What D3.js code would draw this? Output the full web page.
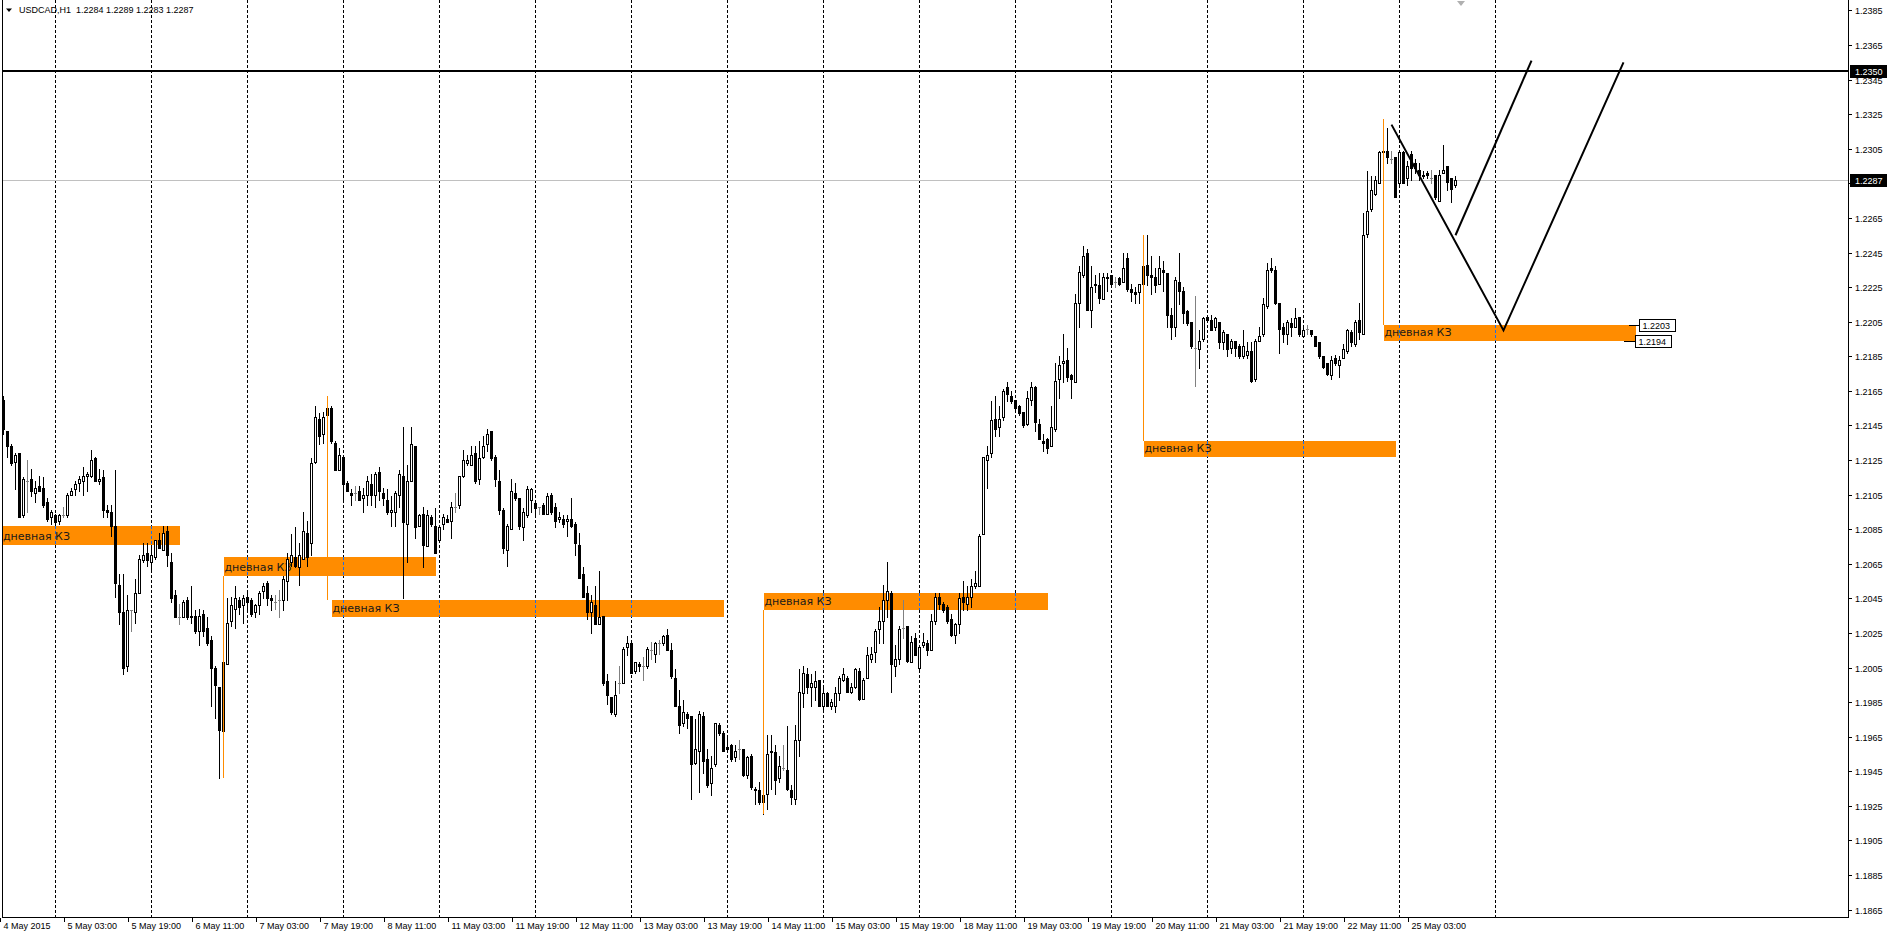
<!DOCTYPE html>
<html>
<head>
<meta charset="utf-8">
<script src="https://cdnjs.cloudflare.com/ajax/libs/d3/7.8.5/d3.min.js"></script>
<style>
  html, body { margin: 0; padding: 0; background: #fff; }
  svg { display: block; }
  text { font-family: "Liberation Sans", Arial, sans-serif; font-size: 9px; fill: #000; }
  .zone-text { font-family: "DejaVu Sans", sans-serif; font-size: 11px; fill: #1a1a1a; }
</style>
</head>
<body>
<div id="chart"></div>
<script>
var width = 1890, height = 934;
var plotLeft = 2, plotRight = 1848, plotBottom = 917;

var symbol = "USDCAD,H1";
var days = ["2015-05-04","2015-05-05","2015-05-06","2015-05-07","2015-05-08",
            "2015-05-11","2015-05-12","2015-05-13","2015-05-14","2015-05-15",
            "2015-05-18","2015-05-19","2015-05-20","2015-05-21","2015-05-22","2015-05-25"];
var firstHour = 11;

var opens = [
1.2160,1.2142,1.2133,1.2124,1.2129,1.2093,1.2113,1.2114,1.2106,1.2110,
1.2109,1.2101,1.2092,1.2093,1.2090,1.2093,1.2093,1.2105,1.2108,1.2112,
1.2113,1.2116,1.2116,1.2126,1.2113,1.2115,1.2096,1.2095,1.2087,1.2053,
1.2037,1.2006,1.2038,1.2037,1.2048,1.2067,1.2071,1.2066,1.2069,1.2079,
1.2073,1.2084,1.2066,1.2047,1.2034,1.2034,1.2044,1.2035,1.2035,1.2026,
1.2036,1.2028,1.2021,1.2005,1.1994,1.1968,1.2007,1.2032,1.2039,1.2044,
1.2041,1.2046,1.2044,1.2037,1.2041,1.2049,1.2054,1.2045,1.2043,1.2044,
1.2044,1.2055,1.2066,1.2069,1.2063,1.2068,1.2083,1.2077,1.2124,1.2149,
1.2140,1.2151,1.2155,1.2135,1.2119,1.2127,1.2112,1.2106,1.2106,1.2107,
1.2103,1.2105,1.2111,1.2105,1.2118,1.2106,1.2102,1.2095,1.2095,1.2105,
1.2116,1.2088,1.2113,1.2133,1.2087,1.2094,1.2075,1.2092,1.2087,1.2079,
1.2088,1.2091,1.2090,1.2098,1.2099,1.2116,1.2123,1.2122,1.2129,1.2114,
1.2127,1.2134,1.2142,1.2127,1.2113,1.2096,1.2073,1.2085,1.2106,1.2103,
1.2086,1.2093,1.2102,1.2100,1.2098,1.2099,1.2094,1.2105,1.2098,1.2091,
1.2091,1.2090,1.2091,1.2088,1.2076,1.2059,1.2048,1.2037,1.2041,1.2030,
1.2035,1.1997,1.1988,1.1978,1.1996,1.1996,1.2017,1.2019,1.2003,1.2007,
1.2006,1.2006,1.2015,1.2013,1.2019,1.2019,1.2024,1.2015,1.1999,1.1983,
1.1973,1.1978,1.1977,1.1950,1.1957,1.1977,1.1952,1.1938,1.1949,1.1972,
1.1967,1.1959,1.1960,1.1953,1.1958,1.1958,1.1943,1.1954,1.1935,1.1934,
1.1927,1.1932,1.1956,1.1956,1.1941,1.1947,1.1946,1.1934,1.1929,1.1963,
1.1990,1.2001,1.1994,1.1994,1.1998,1.1983,1.1990,1.1983,1.1983,1.1990,
1.1998,1.1999,1.1991,1.1994,1.2003,1.1987,1.1999,1.2010,1.2014,1.2027,
1.2032,1.2044,1.2048,1.2006,1.2010,1.2028,1.2029,1.2008,1.2022,1.2005,
1.2018,1.2019,1.2015,1.2032,1.2046,1.2042,1.2040,1.2033,1.2024,1.2030,
1.2046,1.2042,1.2046,1.2052,1.2052,1.2082,1.2125,1.2129,1.2149,1.2144,
1.2150,1.2167,1.2162,1.2160,1.2156,1.2153,1.2146,1.2160,1.2167,1.2146,
1.2136,1.2137,1.2133,1.2143,1.2172,1.2181,1.2183,1.2174,1.2170,1.2216,
1.2232,1.2245,1.2212,1.2226,1.2226,1.2218,1.2230,1.2232,1.2228,1.2230,
1.2228,1.2242,1.2224,1.2222,1.2222,1.2227,1.2238,1.2232,1.2231,1.2227,
1.2235,1.2233,1.2209,1.2202,1.2228,1.2223,1.2211,1.2205,1.2190,1.2189,
1.2195,1.2208,1.2206,1.2202,1.2205,1.2193,1.2198,1.2190,1.2194,1.2191,
1.2185,1.2186,1.2188,1.2172,1.2194,1.2198,1.2214,1.2236,1.2235,1.2216,
1.2202,1.2198,1.2204,1.2202,1.2208,1.2197,1.2201,1.2200,1.2197,1.2193,
1.2185,1.2181,1.2174,1.2184,1.2180,1.2184,1.2188,1.2199,1.2192,1.2206,
1.2198,1.2256,1.2270,1.2279,1.2285,1.2303,1.2304,1.2299,1.2300,1.2285,
1.2303,1.2288,1.2302,1.2297,1.2293,1.2289,1.2291,1.2288,1.2290,1.2275,
1.2291,1.2295,1.2288,1.2284];

var highs = [
1.2162,1.2142,1.2134,1.2129,1.2129,1.2115,1.2125,1.2120,1.2113,1.2116,
1.2115,1.2103,1.2096,1.2094,1.2094,1.2098,1.2106,1.2109,1.2113,1.2116,
1.2121,1.2118,1.2131,1.2127,1.2120,1.2119,1.2099,1.2099,1.2119,1.2059,
1.2059,1.2047,1.2038,1.2056,1.2070,1.2077,1.2077,1.2074,1.2079,1.2083,
1.2087,1.2087,1.2071,1.2050,1.2042,1.2044,1.2046,1.2052,1.2038,1.2039,
1.2038,1.2034,1.2023,1.2006,1.1994,1.2009,1.2045,1.2046,1.2052,1.2046,
1.2047,1.2048,1.2045,1.2042,1.2049,1.2054,1.2055,1.2047,1.2047,1.2050,
1.2058,1.2071,1.2082,1.2086,1.2077,1.2095,1.2090,1.2126,1.2156,1.2152,
1.2153,1.2162,1.2156,1.2136,1.2132,1.2128,1.2113,1.2108,1.2110,1.2110,
1.2109,1.2116,1.2117,1.2118,1.2121,1.2109,1.2108,1.2104,1.2107,1.2119,
1.2144,1.2122,1.2144,1.2133,1.2094,1.2098,1.2096,1.2093,1.2097,1.2086,
1.2094,1.2093,1.2101,1.2106,1.2116,1.2131,1.2128,1.2133,1.2133,1.2136,
1.2139,1.2143,1.2142,1.2128,1.2119,1.2097,1.2088,1.2114,1.2112,1.2103,
1.2097,1.2110,1.2109,1.2102,1.2098,1.2100,1.2106,1.2106,1.2100,1.2095,
1.2093,1.2093,1.2103,1.2089,1.2083,1.2063,1.2052,1.2047,1.2052,1.2061,
1.2035,1.2001,1.1988,1.1997,1.2006,1.2017,1.2023,1.2019,1.2008,1.2008,
1.2011,1.2017,1.2020,1.2020,1.2021,1.2024,1.2027,1.2019,1.2004,1.1992,
1.1986,1.1979,1.1977,1.1975,1.1980,1.1979,1.1958,1.1954,1.1973,1.1973,
1.1968,1.1964,1.1961,1.1960,1.1963,1.1958,1.1954,1.1955,1.1936,1.1939,
1.1932,1.1966,1.1966,1.1960,1.1954,1.1960,1.1971,1.1937,1.1972,1.2004,
1.2006,1.2005,1.2001,1.2003,1.1998,1.1994,1.1991,1.1987,1.1994,1.2000,
1.2005,1.2000,1.1996,1.2005,1.2005,1.1999,1.2017,1.2017,1.2027,1.2040,
1.2053,1.2066,1.2049,1.2018,1.2029,1.2044,1.2029,1.2023,1.2025,1.2018,
1.2025,1.2021,1.2036,1.2048,1.2048,1.2043,1.2041,1.2036,1.2031,1.2048,
1.2055,1.2052,1.2056,1.2061,1.2082,1.2127,1.2133,1.2159,1.2162,1.2156,
1.2166,1.2170,1.2165,1.2160,1.2157,1.2153,1.2165,1.2170,1.2168,1.2149,
1.2140,1.2138,1.2156,1.2181,1.2185,1.2198,1.2190,1.2175,1.2221,1.2237,
1.2249,1.2247,1.2237,1.2232,1.2233,1.2233,1.2233,1.2232,1.2231,1.2231,
1.2245,1.2245,1.2227,1.2225,1.2227,1.2238,1.2255,1.2243,1.2236,1.2243,
1.2240,1.2233,1.2213,1.2231,1.2245,1.2225,1.2212,1.2205,1.2220,1.2200,
1.2208,1.2209,1.2209,1.2208,1.2205,1.2200,1.2198,1.2195,1.2194,1.2192,
1.2200,1.2193,1.2193,1.2195,1.2202,1.2219,1.2239,1.2242,1.2237,1.2216,
1.2204,1.2206,1.2207,1.2213,1.2208,1.2203,1.2203,1.2200,1.2197,1.2193,
1.2185,1.2181,1.2185,1.2186,1.2185,1.2192,1.2201,1.2200,1.2206,1.2216,
1.2268,1.2292,1.2289,1.2289,1.2304,1.2322,1.2317,1.2304,1.2300,1.2304,
1.2304,1.2298,1.2304,1.2299,1.2297,1.2292,1.2292,1.2293,1.2290,1.2293,
1.2307,1.2295,1.2288,1.2289];

var lows = [
1.2140,1.2127,1.2122,1.2108,1.2092,1.2092,1.2095,1.2104,1.2101,1.2107,
1.2098,1.2090,1.2088,1.2088,1.2088,1.2092,1.2092,1.2105,1.2105,1.2107,
1.2105,1.2107,1.2115,1.2113,1.2111,1.2092,1.2092,1.2081,1.2046,1.2030,
1.2001,1.2003,1.2026,1.2031,1.2048,1.2066,1.2064,1.2062,1.2068,1.2074,
1.2073,1.2064,1.2043,1.2034,1.2030,1.2034,1.2033,1.2031,1.2025,1.2018,
1.2023,1.2018,1.1983,1.1976,1.1941,1.1945,1.2007,1.2029,1.2028,1.2036,
1.2031,1.2037,1.2035,1.2034,1.2036,1.2045,1.2041,1.2038,1.2039,1.2034,
1.2038,1.2044,1.2064,1.2063,1.2053,1.2068,1.2064,1.2070,1.2123,1.2134,
1.2135,1.2150,1.2135,1.2119,1.2119,1.2101,1.2107,1.2099,1.2102,1.2102,
1.2095,1.2099,1.2099,1.2098,1.2102,1.2099,1.2094,1.2087,1.2087,1.2098,
1.2045,1.2066,1.2113,1.2080,1.2087,1.2063,1.2075,1.2087,1.2071,1.2079,
1.2085,1.2089,1.2080,1.2095,1.2097,1.2115,1.2122,1.2122,1.2112,1.2111,
1.2126,1.2130,1.2125,1.2110,1.2094,1.2071,1.2064,1.2085,1.2102,1.2085,
1.2079,1.2092,1.2095,1.2094,1.2094,1.2094,1.2094,1.2094,1.2086,1.2089,
1.2086,1.2081,1.2086,1.2070,1.2057,1.2046,1.2033,1.2025,1.2030,1.2030,
1.1995,1.1984,1.1978,1.1977,1.1990,1.1996,1.2012,1.2002,1.2002,1.2003,
1.1998,1.2005,1.2010,1.2008,1.2013,1.2018,1.2015,1.1999,1.1983,1.1967,
1.1971,1.1970,1.1929,1.1949,1.1933,1.1944,1.1936,1.1931,1.1948,1.1966,
1.1957,1.1957,1.1951,1.1951,1.1952,1.1942,1.1941,1.1935,1.1926,1.1926,
1.1920,1.1923,1.1935,1.1932,1.1939,1.1946,1.1934,1.1926,1.1926,1.1954,
1.1982,1.1990,1.1983,1.1986,1.1983,1.1980,1.1983,1.1981,1.1979,1.1986,
1.1997,1.1991,1.1990,1.1993,1.1986,1.1987,1.1999,1.2008,1.2008,1.2019,
1.2019,1.2034,1.1991,1.2000,1.2007,1.2022,1.2008,1.2008,1.2012,1.2004,
1.2017,1.2012,1.2015,1.2030,1.2039,1.2037,1.2031,1.2023,1.2019,1.2025,
1.2038,1.2038,1.2040,1.2051,1.2052,1.2082,1.2109,1.2127,1.2139,1.2139,
1.2148,1.2159,1.2158,1.2154,1.2151,1.2144,1.2145,1.2157,1.2142,1.2137,
1.2130,1.2129,1.2133,1.2142,1.2161,1.2170,1.2171,1.2161,1.2170,1.2202,
1.2231,1.2212,1.2202,1.2222,1.2216,1.2218,1.2223,1.2227,1.2225,1.2226,
1.2228,1.2223,1.2217,1.2216,1.2216,1.2226,1.2226,1.2221,1.2222,1.2227,
1.2223,1.2202,1.2195,1.2197,1.2215,1.2204,1.2203,1.2190,1.2168,1.2178,
1.2194,1.2205,1.2200,1.2200,1.2190,1.2189,1.2185,1.2187,1.2185,1.2184,
1.2184,1.2184,1.2170,1.2171,1.2194,1.2197,1.2213,1.2234,1.2215,1.2187,
1.2193,1.2192,1.2197,1.2202,1.2197,1.2196,1.2198,1.2197,1.2191,1.2184,
1.2178,1.2174,1.2172,1.2180,1.2173,1.2184,1.2187,1.2191,1.2191,1.2195,
1.2198,1.2254,1.2269,1.2278,1.2285,1.2302,1.2297,1.2297,1.2277,1.2284,
1.2285,1.2284,1.2287,1.2291,1.2287,1.2288,1.2288,1.2285,1.2276,1.2275,
1.2291,1.2281,1.2274,1.2283];

var closes = [
1.2143,1.2133,1.2123,1.2128,1.2092,1.2114,1.2113,1.2107,1.2109,1.2107,
1.2099,1.2091,1.2095,1.2089,1.2093,1.2093,1.2105,1.2107,1.2111,1.2114,
1.2116,1.2117,1.2125,1.2113,1.2114,1.2096,1.2095,1.2087,1.2054,1.2037,
1.2005,1.2038,1.2038,1.2048,1.2068,1.2070,1.2067,1.2070,1.2079,1.2074,
1.2083,1.2070,1.2045,1.2034,1.2034,1.2043,1.2034,1.2034,1.2026,1.2035,
1.2026,1.2019,1.2005,1.1995,1.1969,1.2008,1.2031,1.2041,1.2045,1.2040,
1.2045,1.2043,1.2036,1.2041,1.2048,1.2052,1.2045,1.2044,1.2043,1.2044,
1.2056,1.2068,1.2070,1.2064,1.2070,1.2084,1.2069,1.2123,1.2150,1.2139,
1.2150,1.2155,1.2136,1.2119,1.2128,1.2111,1.2107,1.2105,1.2106,1.2102,
1.2105,1.2113,1.2105,1.2117,1.2107,1.2103,1.2095,1.2096,1.2106,1.2117,
1.2089,1.2113,1.2134,1.2086,1.2093,1.2076,1.2093,1.2088,1.2071,1.2086,
1.2092,1.2089,1.2098,1.2098,1.2116,1.2125,1.2125,1.2128,1.2113,1.2126,
1.2133,1.2140,1.2126,1.2114,1.2096,1.2074,1.2087,1.2107,1.2103,1.2087,
1.2095,1.2108,1.2108,1.2097,1.2098,1.2094,1.2104,1.2095,1.2090,1.2092,
1.2088,1.2091,1.2087,1.2077,1.2057,1.2046,1.2037,1.2043,1.2030,1.2034,
1.1996,1.1989,1.1979,1.1989,1.1996,1.2016,1.2019,1.2002,1.2008,1.2006,
1.2006,1.2016,1.2015,1.2019,1.2019,1.2023,1.2015,1.2000,1.1983,1.1972,
1.1979,1.1976,1.1949,1.1958,1.1978,1.1951,1.1937,1.1947,1.1973,1.1967,
1.1957,1.1958,1.1952,1.1957,1.1958,1.1943,1.1953,1.1936,1.1934,1.1927,
1.1931,1.1955,1.1957,1.1940,1.1948,1.1947,1.1935,1.1930,1.1963,1.1991,
1.2002,1.1994,1.1996,1.1997,1.1983,1.1990,1.1983,1.1985,1.1990,1.1999,
1.2001,1.1991,1.1994,1.2004,1.1987,1.1998,1.2012,1.2013,1.2026,1.2032,
1.2044,1.2049,1.2007,1.2010,1.2027,1.2028,1.2009,1.2020,1.2012,1.2017,
1.2020,1.2015,1.2032,1.2046,1.2042,1.2038,1.2032,1.2024,1.2030,1.2045,
1.2043,1.2046,1.2052,1.2054,1.2081,1.2127,1.2128,1.2148,1.2143,1.2149,
1.2165,1.2163,1.2159,1.2155,1.2152,1.2145,1.2161,1.2167,1.2147,1.2137,
1.2135,1.2132,1.2144,1.2171,1.2180,1.2182,1.2173,1.2172,1.2216,1.2234,
1.2243,1.2212,1.2225,1.2227,1.2219,1.2231,1.2231,1.2227,1.2228,1.2227,
1.2236,1.2224,1.2222,1.2221,1.2227,1.2237,1.2232,1.2231,1.2226,1.2236,
1.2234,1.2209,1.2202,1.2229,1.2223,1.2210,1.2204,1.2191,1.2190,1.2194,
1.2207,1.2206,1.2200,1.2207,1.2193,1.2199,1.2189,1.2194,1.2190,1.2185,
1.2191,1.2188,1.2171,1.2194,1.2197,1.2215,1.2235,1.2235,1.2216,1.2201,
1.2198,1.2205,1.2202,1.2207,1.2198,1.2200,1.2201,1.2198,1.2191,1.2185,
1.2179,1.2175,1.2183,1.2181,1.2183,1.2189,1.2200,1.2193,1.2205,1.2199,
1.2255,1.2269,1.2281,1.2287,1.2303,1.2304,1.2300,1.2299,1.2277,1.2303,
1.2285,1.2295,1.2294,1.2294,1.2290,1.2290,1.2290,1.2288,1.2277,1.2290,
1.2293,1.2286,1.2282,1.2287];

var priceTicks = [1.1865,1.1885,1.1905,1.1925,1.1945,1.1965,1.1985,1.2005,1.2025,
                  1.2045,1.2065,1.2085,1.2105,1.2125,1.2145,1.2165,1.2185,1.2205,
                  1.2225,1.2245,1.2265,1.2285,1.2305,1.2325,1.2345,1.2365,1.2385];
var extraGridDays = ["2015-05-26 00:00"];

// horizontal level drawn by hand
var levelPrice = 1.2350;

// "дневная КЗ" zones
var zoneText = "дневная КЗ";
var zoneFrom = ["2015-05-01 00:00","2015-05-06 18:00","2015-05-07 21:00","2015-05-14 09:00","2015-05-20 08:00","2015-05-22 20:00"];
var zoneTo   = ["2015-05-06 07:00","2015-05-08 23:00","2015-05-13 23:00","2015-05-19 08:00","2015-05-22 23:00","2015-05-27 11:00"];
var zoneHigh = [1.2087,1.2069,1.2044,1.2048,1.2136,1.2203];
var zoneLow  = [1.2076,1.2058,1.2034,1.2038,1.2127,1.2194];

// orange marker lines from the zone to the extreme
var markTime = ["2015-05-06 18:00","2015-05-07 20:00","2015-05-14 09:00","2015-05-20 08:00","2015-05-22 20:00"];
var markFrom = [1.2058,1.2044,1.2038,1.2136,1.2203];
var markTo   = [1.1941,1.2162,1.1920,1.2255,1.2322];

// projected path lines
var pathTimesA  = ["2015-05-22 22:00","2015-05-26 02:00","2015-05-27 08:00"];
var pathPricesA = [1.2319,1.2200,1.2355];
var pathTimesB  = ["2015-05-25 14:00","2015-05-26 09:00"];
var pathPricesB = [1.2255,1.2356];

var parseTime = d3.timeParse("%Y-%m-%d %H:%M");
var HOUR = 3600 * 1000;

var times = [];
days.forEach(function(day, d) {
  for (var h = (d === 0 ? firstHour : 0); h < 24 && times.length < closes.length; h++) {
    times.push(parseTime(day + " " + (h < 10 ? "0" + h : h) + ":00"));
  }
});

var last = times.length - 1;
var bisectTime = d3.bisector(function(d) { return d.getTime(); }).left;

function barIndex(s) {
  var t = parseTime(s).getTime();
  if (t < times[0].getTime()) return (t - times[0].getTime()) / HOUR;
  if (t > times[last].getTime()) return last + (t - times[last].getTime()) / HOUR;
  return bisectTime(times, t);
}

var x = d3.scaleLinear()
    .domain([-0.875, 461.125])
    .range([0, plotRight]);

var y = d3.scaleLinear()
    .domain([1.186071, 1.239107])
    .range([plotBottom, 0]);

var fmt = d3.format(".4f");
var fmtFirst = d3.timeFormat("%-d %b %Y");
var fmtTime = d3.timeFormat("%-d %b %H:%M");

var svg = d3.select("#chart").append("svg")
    .attr("width", width)
    .attr("height", height)
    .style("background", "#fff");

svg.append("defs").append("clipPath")
    .attr("id", "plot-clip")
  .append("rect")
    .attr("x", plotLeft)
    .attr("y", 0)
    .attr("width", plotRight - plotLeft)
    .attr("height", plotBottom);

var plot = svg.append("g")
    .attr("clip-path", "url(#plot-clip)")
    .attr("shape-rendering", "crispEdges");

// day separators
var gridIdx = [];
times.forEach(function(t, i) { if (t.getHours() === 0) gridIdx.push(i); });
extraGridDays.forEach(function(s) { gridIdx.push(barIndex(s)); });

plot.selectAll("line.grid")
  .data(gridIdx).enter()
  .append("line")
    .classed("grid", true)
    .attr("x1", function(d) { return x(d); })
    .attr("x2", function(d) { return x(d); })
    .attr("y1", 0)
    .attr("y2", plotBottom)
    .attr("stroke", "#000")
    .attr("stroke-width", 1)
    .attr("stroke-dasharray", "3,2");

// current price line
var lastClose = closes[last];
plot.append("line")
    .attr("x1", plotLeft).attr("x2", plotRight)
    .attr("y1", Math.round(y(lastClose)) + 0.5)
    .attr("y2", Math.round(y(lastClose)) + 0.5)
    .attr("stroke", "#c0c0c0")
    .attr("stroke-width", 1);

// zones
var zones = d3.range(zoneFrom.length).map(function(k) {
  return {
    x0: Math.max(x(barIndex(zoneFrom[k])), plotLeft),
    x1: x(barIndex(zoneTo[k])),
    y0: Math.round(y(zoneHigh[k])),
    y1: Math.round(y(zoneLow[k]))
  };
});

var zoneG = plot.selectAll("g.zone")
  .data(zones).enter()
  .append("g")
    .classed("zone", true);

zoneG.append("rect")
    .attr("x", function(d) { return d.x0; })
    .attr("y", function(d) { return d.y0; })
    .attr("width", function(d) { return d.x1 - d.x0; })
    .attr("height", function(d) { return d.y1 - d.y0; })
    .attr("fill", "#ff8c00");

// grid dashes show through the zones in blue
zoneG.each(function(z) {
  var g = d3.select(this);
  gridIdx.forEach(function(i) {
    var gx = x(i);
    if (gx > z.x0 && gx < z.x1) {
      g.append("line")
        .attr("x1", gx).attr("x2", gx)
        .attr("y1", z.y0).attr("y2", z.y1)
        .attr("stroke", "#1f6fe8")
        .attr("stroke-dasharray", "3,2");
    }
  });
});

zoneG.append("text")
    .classed("zone-text", true)
    .attr("x", function(d) { return d.x0 + 1; })
    .attr("y", function(d) { return d.y1 - 5; })
    .attr("shape-rendering", null)
    .text(zoneText);

// candles
var candle = plot.selectAll("g.candle")
  .data(d3.range(closes.length)).enter()
  .append("g")
    .classed("candle", true);

candle.each(function(i) {
  var g = d3.select(this);
  var o = opens[i], c = closes[i];
  var cx = x(i);
  var yh = Math.round(y(highs[i])), yl = Math.round(y(lows[i]));
  var yTop = Math.round(y(Math.max(o, c))), yBot = Math.round(y(Math.min(o, c)));
  var doji = Math.abs(o - c) < 1e-7;
  var col = doji ? "#808080" : "#000";

  g.append("rect")
    .attr("x", cx - 0.5)
    .attr("y", yh)
    .attr("width", 1)
    .attr("height", Math.max(1, yl - yh + 1))
    .attr("fill", col);

  if (doji) {
    g.append("rect")
      .attr("x", cx - 1.5)
      .attr("y", yTop)
      .attr("width", 3)
      .attr("height", 1)
      .attr("fill", col);
  } else if (c > o) {
    g.append("rect")
      .attr("x", cx - 1)
      .attr("y", yTop + 0.5)
      .attr("width", 2)
      .attr("height", Math.max(1, yBot - yTop))
      .attr("fill", "#fff")
      .attr("stroke", "#000")
      .attr("stroke-width", 1);
  } else {
    g.append("rect")
      .attr("x", cx - 1.5)
      .attr("y", yTop)
      .attr("width", 3)
      .attr("height", Math.max(1, yBot - yTop + 1))
      .attr("fill", "#000");
  }
});

// orange marker lines
plot.selectAll("line.mark")
  .data(d3.range(markTime.length)).enter()
  .append("line")
    .classed("mark", true)
    .attr("x1", function(k) { return x(barIndex(markTime[k])); })
    .attr("x2", function(k) { return x(barIndex(markTime[k])); })
    .attr("y1", function(k) { return y(markFrom[k]); })
    .attr("y2", function(k) { return y(markTo[k]); })
    .attr("stroke", "#ff8c00")
    .attr("stroke-width", 1);

// hand drawn level at 1.2350
plot.append("line")
    .attr("x1", plotLeft).attr("x2", plotRight)
    .attr("y1", Math.round(y(levelPrice)))
    .attr("y2", Math.round(y(levelPrice)))
    .attr("stroke", "#000")
    .attr("stroke-width", 2);

// projected paths
var pathLine = d3.line()
    .x(function(d) { return x(barIndex(d[0])); })
    .y(function(d) { return y(d[1]); });

[[pathTimesA, pathPricesA], [pathTimesB, pathPricesB]].forEach(function(p) {
  plot.append("path")
    .datum(d3.zip(p[0], p[1]))
    .attr("d", pathLine)
    .attr("fill", "none")
    .attr("stroke", "#000")
    .attr("stroke-width", 2)
    .attr("shape-rendering", "auto");
});

// right price labels of the last zone
var lz = zones[zones.length - 1];
var rightLabels = [
  {price: zoneHigh[zoneHigh.length - 1], lx: lz.x1 - 7, bx: lz.x1 + 3},
  {price: zoneLow[zoneLow.length - 1], lx: lz.x1 - 12, bx: lz.x1 - 1}
];
var rl = svg.selectAll("g.rlabel")
  .data(rightLabels).enter()
  .append("g")
    .classed("rlabel", true);

rl.append("line")
    .attr("x1", function(d) { return d.lx; })
    .attr("x2", function(d) { return d.bx; })
    .attr("y1", function(d) { return Math.round(y(d.price)) + 0.5; })
    .attr("y2", function(d) { return Math.round(y(d.price)) + 0.5; })
    .attr("stroke", "#000")
    .attr("shape-rendering", "crispEdges");

rl.append("rect")
    .attr("x", function(d) { return d.bx + 0.5; })
    .attr("y", function(d) { return Math.round(y(d.price)) - 5.5; })
    .attr("width", 36)
    .attr("height", 12)
    .attr("fill", "#fff")
    .attr("stroke", "#000")
    .attr("shape-rendering", "crispEdges");

rl.append("text")
    .attr("x", function(d) { return d.bx + 4; })
    .attr("y", function(d) { return Math.round(y(d.price)) + 3.5; })
    .text(function(d) { return fmt(d.price); });

// frame
var frame = svg.append("g").attr("shape-rendering", "crispEdges");
frame.append("line")
    .attr("x1", plotLeft + 0.5).attr("x2", plotLeft + 0.5)
    .attr("y1", 0).attr("y2", plotBottom + 1)
    .attr("stroke", "#000");
frame.append("line")
    .attr("x1", plotRight + 0.5).attr("x2", plotRight + 0.5)
    .attr("y1", 0).attr("y2", plotBottom + 1)
    .attr("stroke", "#000");
frame.append("line")
    .attr("x1", plotLeft).attr("x2", plotRight + 1)
    .attr("y1", plotBottom + 0.5).attr("y2", plotBottom + 0.5)
    .attr("stroke", "#000");

// price axis
var pAxis = svg.append("g");
pAxis.selectAll("line.ptick")
  .data(priceTicks).enter()
  .append("line")
    .attr("x1", plotRight + 1).attr("x2", plotRight + 4)
    .attr("y1", function(d) { return Math.round(y(d)) + 0.5; })
    .attr("y2", function(d) { return Math.round(y(d)) + 0.5; })
    .attr("stroke", "#000")
    .attr("shape-rendering", "crispEdges");

pAxis.selectAll("text.plabel")
  .data(priceTicks).enter()
  .append("text")
    .classed("plabel", true)
    .attr("x", plotRight + 7)
    .attr("y", function(d) { return Math.round(y(d)) + 3.5; })
    .text(fmt);

var boxes = [levelPrice, lastClose];
var pbox = pAxis.selectAll("g.pbox")
  .data(boxes).enter()
  .append("g");

pbox.append("rect")
    .attr("x", plotRight + 2)
    .attr("y", function(d) { return Math.round(y(d)) - 6; })
    .attr("width", 37)
    .attr("height", 13)
    .attr("fill", "#000")
    .attr("shape-rendering", "crispEdges");

pbox.append("text")
    .attr("x", plotRight + 7)
    .attr("y", function(d) { return Math.round(y(d)) + 4; })
    .style("fill", "#fff")
    .text(fmt);

// time axis
var labelIdx = d3.range(0, times.length, 16);
var tAxis = svg.append("g");
tAxis.selectAll("line.ttick")
  .data(labelIdx).enter()
  .append("line")
    .attr("x1", function(i) { return x(i) - 3; })
    .attr("x2", function(i) { return x(i) - 3; })
    .attr("y1", plotBottom + 1)
    .attr("y2", plotBottom + 5)
    .attr("stroke", "#000")
    .attr("shape-rendering", "crispEdges");

tAxis.selectAll("text.tlabel")
  .data(labelIdx).enter()
  .append("text")
    .attr("x", function(i) { return x(i); })
    .attr("y", plotBottom + 12)
    .text(function(i) { return i === 0 ? fmtFirst(times[i]) : fmtTime(times[i]); });

// header
svg.append("path")
    .attr("d", "M6,8.5 L12,8.5 L9,12 Z")
    .attr("fill", "#000");

svg.append("text")
    .attr("x", 19)
    .attr("y", 13)
    .style("white-space", "pre")
    .text(symbol + "  " + [opens[last], highs[last], lows[last], closes[last]].map(fmt).join(" "));

// chart shift marker
svg.append("path")
    .attr("d", "M1457,1 L1465,1 L1461,6 Z")
    .attr("fill", "#b0b0b0");
</script>
</body>
</html>
